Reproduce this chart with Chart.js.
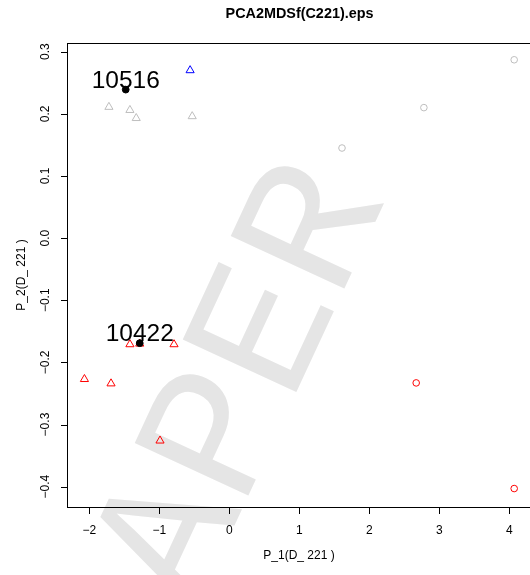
<!DOCTYPE html>
<html>
<head>
<meta charset="utf-8">
<title>PCA2MDSf(C221).eps</title>
<script src="https://cdn.jsdelivr.net/npm/chart.js@4"></script>
<style>
  html, body { margin: 0; padding: 0; background: #fff; overflow: hidden; }
  canvas { display: block; }
</style>
</head>
<body>
<canvas id="chart" width="530" height="575"></canvas>
<script>
// values
const grayTriX = [-1.72, -1.42, -1.33, -0.53];
const grayTriY = [0.211, 0.206, 0.193, 0.196];
const grayCircX = [1.61, 2.78, 4.07];
const grayCircY = [0.145, 0.210, 0.287];
const blueTriX = [-0.56];
const blueTriY = [0.270];
const redTriX = [-1.42, -1.28, -0.79, -2.07, -1.69, -0.99];
const redTriY = [-0.171, -0.170, -0.171, -0.227, -0.234, -0.326];
const redCircX = [2.67, 4.07];
const redCircY = [-0.233, -0.403];
const blackX = [-1.48, -1.28];
const blackY = [0.239, -0.169];
const pointLabels = ["10516", "10422"];

const xTicks = [-2, -1, 0, 1, 2, 3, 4];
const yTicks = [-0.4, -0.3, -0.2, -0.1, 0.0, 0.1, 0.2, 0.3];

const FONT = '"Liberation Sans", Arial, Helvetica, sans-serif';

function pts(xs, ys) {
  return xs.map((x, i) => ({ x: x, y: ys[i] }));
}

function fmt(v, digits) {
  let s = v.toFixed(digits);
  if (s.startsWith("-")) s = "\u2212" + s.slice(1);
  return s;
}

// faint watermark behind everything
const watermark = {
  id: "watermark",
  beforeDraw(chart) {
    const ctx = chart.ctx;
    ctx.save();
    ctx.fillStyle = "#e5e5e5";
    ctx.font = '190px "Liberation Mono", "Courier New", monospace';
    ctx.textAlign = "left";
    ctx.textBaseline = "alphabetic";
    ctx.translate(146, 716);
    ctx.rotate(-65.1 * Math.PI / 180);
    ctx.fillText("PAPER", 0, 0);
    ctx.restore();
  }
};

// R style box, ticks, labels and titles
const rAxes = {
  id: "rAxes",
  afterDatasetsDraw(chart) {
    const ctx = chart.ctx;
    const a = chart.chartArea;
    const xs = chart.scales.x, ys = chart.scales.y;
    ctx.save();
    ctx.strokeStyle = "#000";
    ctx.lineWidth = 1;
    ctx.strokeRect(a.left + 0.5, a.top + 0.5, a.right - a.left + 20, a.bottom - a.top);

    ctx.beginPath();
    xTicks.forEach(v => {
      const px = Math.round(xs.getPixelForValue(v)) + 0.5;
      ctx.moveTo(px, a.bottom + 0.5);
      ctx.lineTo(px, a.bottom + 7);
    });
    yTicks.forEach(v => {
      const py = Math.round(ys.getPixelForValue(v)) + 0.5;
      ctx.moveTo(a.left + 0.5, py);
      ctx.lineTo(a.left - 6, py);
    });
    ctx.stroke();

    ctx.fillStyle = "#000";
    ctx.font = "12px " + FONT;
    ctx.textAlign = "center";
    ctx.textBaseline = "middle";
    xTicks.forEach(v => {
      ctx.fillText(fmt(v, 0), xs.getPixelForValue(v), 531);
    });
    ctx.fillText("P_1(D_ 221 )", 299, 556);

    yTicks.forEach(v => {
      ctx.save();
      ctx.translate(46, ys.getPixelForValue(v));
      ctx.rotate(-Math.PI / 2);
      ctx.fillText(fmt(v, 1), 0, 0);
      ctx.restore();
    });
    ctx.save();
    ctx.translate(22, 275);
    ctx.rotate(-Math.PI / 2);
    ctx.fillText("P_2(D_ 221 )", 0, 0);
    ctx.restore();

    ctx.font = "bold 14.4px " + FONT;
    ctx.fillText("PCA2MDSf(C221).eps", 299.5, 14);

    // labels of the two highlighted samples
    ctx.font = "24.5px " + FONT;
    ctx.textBaseline = "alphabetic";
    blackX.forEach((x, i) => {
      ctx.fillText(pointLabels[i], xs.getPixelForValue(x), ys.getPixelForValue(blackY[i]) - 2);
    });
    ctx.restore();
  }
};

new Chart(document.getElementById("chart"), {
  type: "scatter",
  data: {
    datasets: [
      { label: "marked", data: pts(blackX, blackY), pointStyle: "circle", pointRadius: 3.4,
        backgroundColor: "#000", borderColor: "#000", borderWidth: 1 },
      { label: "gray triangles", data: pts(grayTriX, grayTriY), pointStyle: "triangle", pointRadius: 4.7,
        backgroundColor: "rgba(0,0,0,0)", borderColor: "#bebebe", borderWidth: 1 },
      { label: "gray circles", data: pts(grayCircX, grayCircY), pointStyle: "circle", pointRadius: 3.3,
        backgroundColor: "rgba(0,0,0,0)", borderColor: "#bebebe", borderWidth: 1 },
      { label: "blue triangle", data: pts(blueTriX, blueTriY), pointStyle: "triangle", pointRadius: 4.7,
        backgroundColor: "rgba(0,0,0,0)", borderColor: "#0000ff", borderWidth: 1 },
      { label: "red triangles", data: pts(redTriX, redTriY), pointStyle: "triangle", pointRadius: 4.7,
        backgroundColor: "rgba(0,0,0,0)", borderColor: "#ff0000", borderWidth: 1 },
      { label: "red circles", data: pts(redCircX, redCircY), pointStyle: "circle", pointRadius: 3.3,
        backgroundColor: "rgba(0,0,0,0)", borderColor: "#ff0000", borderWidth: 1 }
    ]
  },
  options: {
    responsive: false,
    animation: false,
    layout: { autoPadding: false, padding: { top: 43, right: 0, left: 0, bottom: 0 } },
    plugins: {
      legend: { display: false },
      tooltip: { enabled: false },
      title: { display: false }
    },
    scales: {
      x: {
        type: "linear",
        min: -2.319,
        max: 4.296,
        grid: { display: false },
        border: { display: false },
        ticks: { display: false, stepSize: 1, includeBounds: false },
        afterFit(scale) {
          scale.height = 68;
          scale.paddingLeft = 0;
          scale.paddingRight = 0;
        }
      },
      y: {
        type: "linear",
        min: -0.4327,
        max: 0.314,
        grid: { display: false },
        border: { display: false },
        ticks: { display: false, stepSize: 0.1, includeBounds: false },
        afterFit(scale) {
          scale.width = 67;
          scale.paddingTop = 0;
          scale.paddingBottom = 0;
        }
      }
    }
  },
  plugins: [watermark, rAxes]
});
</script>
</body>
</html>
